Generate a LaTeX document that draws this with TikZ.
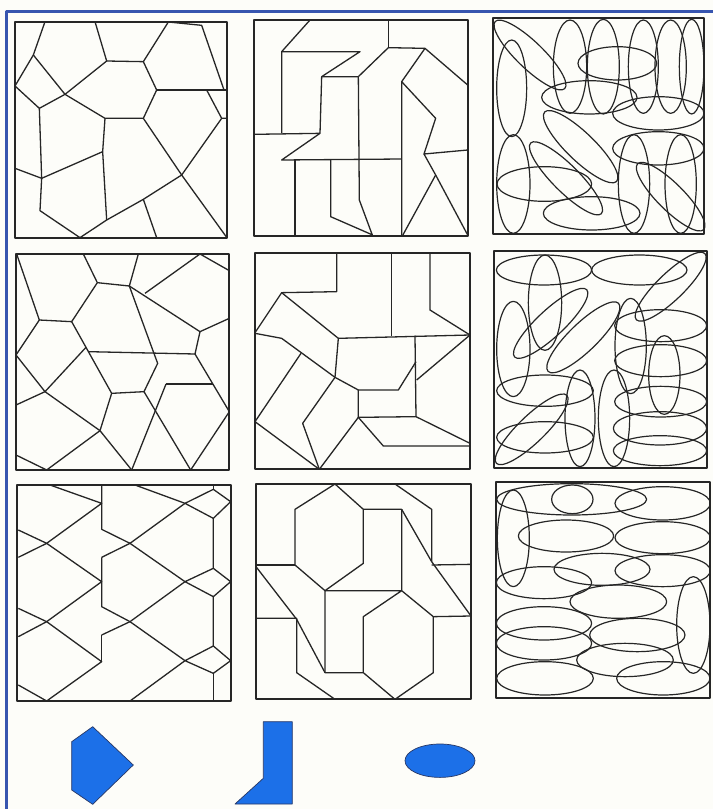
\documentclass[tikz,border=0pt]{standalone}
\usetikzlibrary{calc}
\definecolor{bgc}{RGB}{253,253,249}
\definecolor{edgeblue}{RGB}{55,85,175}
\definecolor{shapeblue}{RGB}{28,112,232}
\definecolor{shapeedge}{RGB}{40,55,100}
\newcommand{\elp}[5]{\draw[rotate around={#5:(#1,#2)}] (#1,#2) ellipse ({#3} and {#4});}
\begin{document}
\begin{tikzpicture}[x=1pt,y=-1pt,line join=round,
  inner/.style={line width=1.3pt,black!85},
  ovals/.style={line width=1.2pt,black!85},
  framebox/.style={line width=2.2pt,black!85},
  solid shape/.style={fill=shapeblue,draw=shapeedge,line width=0.7pt}]
\useasboundingbox (0,0) rectangle (713,809);
\fill[bgc] (0,0) rectangle (713,809);
\draw[edgeblue,line width=3pt] (6,809) -- (6,11) -- (713,11);

% ---------- Panel 1 ----------
\begin{scope}[shift={(0,0)},scale=1/3,inner]
\draw (135,65)--(100,165)--(45,258)--(118,325)--(195,283)--(320,183)--(285,65);
\draw (100,165)--(195,283)--(315,355)--(430,355)--(470,270)--(430,185)--(320,183);
\draw (430,185)--(505,66)--(605,76)--(672,270);
\draw (470,270)--(680,270);
\draw (620,270)--(665,355)--(680,355);
\draw (430,355)--(545,525)--(680,712);
\draw (545,525)--(665,355);
\draw (545,525)--(430,598)--(320,660)--(240,713);
\draw (430,598)--(470,713);
\draw (315,355)--(308,455)--(320,660);
\draw (308,455)--(125,535)--(45,505);
\draw (118,325)--(125,535)--(120,632)--(240,713);
\draw[framebox] (45,65) rectangle (680,713);
\end{scope}

% ---------- Panel 2 ----------
\begin{scope}[shift={(240,0)},scale=1/3,inner]
\draw (210,60)--(125,155)--(125,400);
\draw (125,155)--(360,155)--(245,230)--(355,230);
\draw (245,230)--(240,400)--(42,403);
\draw (240,400)--(125,480)--(485,477);
\draw (165,480)--(165,708);
\draw (272,478)--(272,650)--(398,705);
\draw (355,230)--(358,600)--(398,708);
\draw (355,230)--(445,143)--(555,145)--(683,255);
\draw (445,60)--(445,143);
\draw (555,145)--(485,245)--(485,708);
\draw (485,245)--(587,355)--(552,462)--(683,450);
\draw (552,462)--(587,525)--(683,705);
\draw (587,525)--(487,708);
\draw[framebox] (42,60) rectangle (683,708);
\end{scope}

% ---------- Panel 3 ----------
\begin{scope}[shift={(480,0)},scale=1/3,ovals]
\elp{150}{165}{145}{40}{-44}
\elp{95}{265}{45}{145}{0}
\elp{270}{200}{50}{140}{0}
\elp{370}{200}{48}{142}{0}
\elp{490}{200}{45}{140}{0}
\elp{572}{200}{47}{140}{0}
\elp{635}{200}{37}{142}{0}
\elp{412}{190}{118}{50}{0}
\elp{328}{292}{143}{50}{0}
\elp{535}{340}{137}{50}{0}
\elp{302}{440}{150}{42}{-44}
\elp{100}{552}{50}{148}{0}
\elp{193}{552}{142}{52}{0}
\elp{258}{535}{150}{40}{-45}
\elp{335}{640}{145}{50}{0}
\elp{462}{552}{47}{148}{0}
\elp{535}{445}{137}{50}{0}
\elp{602}{552}{47}{148}{0}
\elp{572}{590}{140}{40}{-45}
\draw[framebox] (40,55) rectangle (672,703);
\end{scope}

% ---------- Panel 4 ----------
\begin{scope}[shift={(0,240)},scale=1/3,inner]
\draw (50,42)--(118,240)--(215,245)--(292,128)--(250,42);
\draw (292,128)--(388,138)--(415,42);
\draw (118,240)--(48,345)--(135,455)--(48,495);
\draw (215,245)--(335,460)--(432,455)--(473,370)--(460,335)--(388,138);
\draw (258,322)--(135,455)--(300,572)--(335,460);
\draw (265,335)--(585,342);
\draw (388,138)--(600,275)--(688,235);
\draw (435,160)--(600,42)--(688,92);
\draw (600,275)--(585,342)--(688,515)--(572,690);
\draw (498,432)--(640,432);
\draw (498,432)--(395,690);
\draw (432,455)--(572,690);
\draw (300,572)--(395,690);
\draw (300,572)--(140,690)--(48,645);
\draw[framebox] (48,42) rectangle (688,690);
\end{scope}

% ---------- Panel 5 ----------
\begin{scope}[shift={(240,240)},scale=1/3,inner]
\draw (290,40)--(290,155)--(125,158)--(45,278);
\draw (125,158)--(295,295)--(285,412);
\draw (45,280)--(125,295)--(285,412)--(355,450);
\draw (295,295)--(690,285);
\draw (455,40)--(455,287);
\draw (570,40)--(570,210)--(690,285);
\draw (690,285)--(530,420);
\draw (525,287)--(528,530);
\draw (528,365)--(475,450)--(355,450)--(355,532)--(528,530)--(690,610);
\draw (355,532)--(430,618)--(690,618);
\draw (183,340)--(45,545)--(238,688)--(355,532);
\draw (285,412)--(188,550)--(238,688);
\draw[framebox] (45,40) rectangle (690,688);
\end{scope}

% ---------- Panel 6 ----------
\begin{scope}[shift={(480,240)},scale=1/3,ovals]
\elp{192}{90}{143}{45}{0}
\elp{478}{90}{143}{45}{0}
\elp{195}{188}{50}{143}{0}
\elp{212}{250}{148}{40}{43}
\elp{100}{327}{50}{143}{0}
\elp{310}{292}{147}{42}{44}
\elp{572}{140}{143}{40}{44}
\elp{452}{318}{47}{143}{0}
\elp{542}{257}{138}{48}{0}
\elp{542}{362}{138}{48}{0}
\elp{553}{405}{47}{118}{0}
\elp{542}{485}{138}{46}{0}
\elp{540}{565}{140}{50}{0}
\elp{540}{632}{140}{45}{0}
\elp{195}{452}{145}{47}{0}
\elp{155}{568}{147}{40}{44}
\elp{195}{592}{145}{47}{0}
\elp{300}{535}{45}{145}{0}
\elp{402}{535}{47}{145}{0}
\draw[framebox] (42,33) rectangle (680,685);
\end{scope}

% ---------- Panel 7 ----------
\begin{scope}[shift={(0,470)},scale=1/3,inner]
\draw (150,45)--(305,100)--(140,220)--(55,262);
\draw (55,180)--(140,220)--(305,335)--(140,455)--(55,500);
\draw (55,415)--(140,455)--(305,575)--(140,693);
\draw (55,645)--(140,693);
\draw (305,45)--(305,178)--(390,220)--(555,335);
\draw (305,262)--(390,220)--(555,100);
\draw (405,45)--(555,100)--(640,58)--(692,95)--(640,145)--(555,100);
\draw (640,45)--(640,58);
\draw (640,145)--(640,295)--(692,335)--(640,380)--(555,335)--(640,295);
\draw (640,380)--(640,528)--(692,572)--(640,610)--(555,572)--(640,528);
\draw (640,610)--(640,693);
\draw (305,262)--(305,410)--(390,455)--(555,572);
\draw (305,495)--(390,455)--(555,335);
\draw (305,495)--(305,575);
\draw (390,693)--(555,572);
\draw[framebox] (52,45) rectangle (692,693);
\end{scope}

% ---------- Panel 8 ----------
\begin{scope}[shift={(240,470)},scale=1/3,inner]
\draw (285,42)--(165,118)--(165,285)--(255,362)--(370,280)--(370,118)--(285,42);
\draw (370,118)--(485,118)--(485,362)--(255,362)--(255,608)--(370,608)--(370,440)--(485,362)--(580,440)--(580,608)--(465,688)--(370,608);
\draw (465,42)--(575,118)--(575,275);
\draw (485,118)--(575,275)--(693,438);
\draw (575,285)--(693,283);
\draw (48,285)--(165,285);
\draw (48,290)--(170,448)--(255,608);
\draw (48,445)--(170,445)--(170,608)--(285,688);
\draw (580,440)--(693,438);
\draw[framebox] (48,42) rectangle (693,688);
\end{scope}

% ---------- Panel 9 ----------
\begin{scope}[shift={(480,470)},scale=1/3,ovals]
\elp{275}{88}{225}{47}{0}
\elp{277}{88}{62}{43}{0}
\elp{548}{100}{143}{50}{0}
\elp{100}{205}{48}{145}{0}
\elp{258}{198}{143}{48}{0}
\elp{548}{203}{143}{48}{0}
\elp{366}{298}{144}{48}{0}
\elp{548}{302}{143}{48}{0}
\elp{192}{338}{143}{48}{0}
\elp{415}{395}{145}{50}{0}
\elp{640}{465}{50}{145}{0}
\elp{192}{460}{143}{50}{0}
\elp{472}{495}{143}{50}{0}
\elp{192}{520}{143}{50}{0}
\elp{435}{570}{145}{50}{0}
\elp{195}{625}{145}{50}{0}
\elp{550}{625}{140}{50}{0}
\draw[framebox] (48,35) rectangle (690,683);
\end{scope}

% ---------- Bottom shapes ----------
\draw[solid shape] (71.7,741.7)--(92.7,726.7)--(133.3,765)--(92.7,804.3)--(71.7,790)--cycle;
\draw[solid shape] (263.3,721.7)--(292.3,721.7)--(292.3,804)--(235,804)--(263.3,778.3)--cycle;
\draw[solid shape] (440,760.7) ellipse (35 and 16.7);
\end{tikzpicture}
\end{document}
